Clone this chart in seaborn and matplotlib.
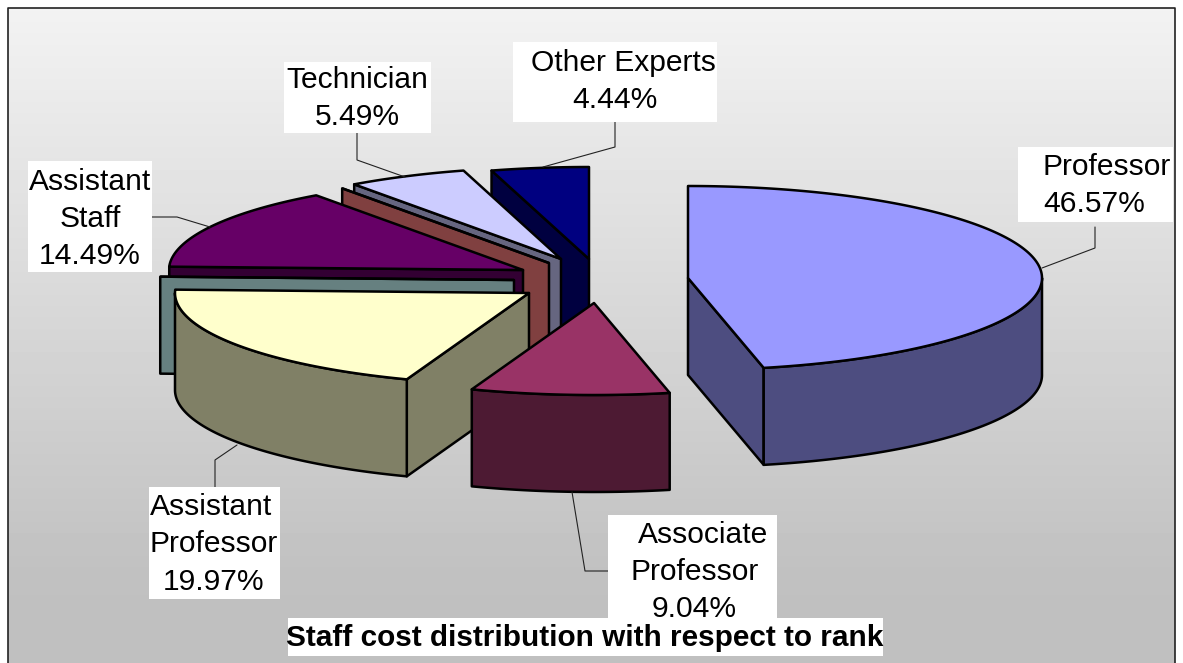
import numpy as np
import matplotlib
matplotlib.use("Agg")
import matplotlib.pyplot as plt
from matplotlib.patches import Polygon, Rectangle
import seaborn as sns

# Slices in clockwise order from 12 o'clock. The two empty names are zero-value
# categories: the original only shows their cut faces (teal and brown).
categories = ["Professor", "Associate Professor", "Assistant Professor", "",
              "Assistant Staff", "", "Technician", "Other Experts"]
percent = [46.57, 9.04, 19.97, 0.0, 14.49, 0.0, 5.49, 4.44]
slice_colors = ["#9999FF", "#993366", "#FFFFCC", "#CCFFFF",
                "#660066", "#FF8080", "#CCCCFF", "#000080"]
title = "Staff cost distribution with respect to rank"

# Layout in image pixels
W, H = 1183, 663
RX, RY, DEPTH = 354, 92, 97
centers = [(688, 278), (594, 303), (529, 293), (514, 280),
           (523, 270), (549, 263), (561, 259), (589, 259)]

# name -> box (x0, y0, x1, y1), text lines as (x center, y center), leader line
label_layout = {
    "Professor": ((1018, 147, 1173, 222), [(1107, 167), (1094, 204)],
                  [(1042, 268), (1095, 248), (1095, 227)]),
    "Associate Professor": ((608, 515, 777, 622), [(703, 535), (695, 572), (694, 609)],
                            [(572, 492), (585, 571), (608, 571)]),
    "Assistant Professor": ((149, 487, 280, 599), [(211, 507), (214, 544), (214, 582)],
                            [(237, 445), (215, 460), (215, 487)]),
    "Assistant Staff": ((28, 161, 152, 272), [(90, 182), (90, 219), (90, 256)],
                        [(210, 227), (177, 217), (152, 217)]),
    "Technician": ((284, 62, 431, 133), [(357, 80), (357, 117)],
                   [(405, 177), (357, 160), (357, 133)]),
    "Other Experts": ((513, 42, 717, 122), [(623, 63), (615, 100)],
                      [(543, 167), (615, 147), (615, 122)]),
}

sns.set_theme(style="white")
plt.rcParams["font.family"] = ["Liberation Sans", "DejaVu Sans"]
palette = sns.color_palette(slice_colors)

fig, ax = plt.subplots(figsize=(W / 100, H / 100), dpi=100)
fig.subplots_adjust(0, 0, 1, 1)
ax.set_xlim(0, W)
ax.set_ylim(H, 0)
ax.axis("off")

# gradient panel with frame (no bottom line, it runs off the image)
gradient = np.interp(np.arange(8, H), [8, 575, H], [0.95, 0.755, 0.75]).reshape(-1, 1)
ax.imshow(gradient, cmap="gray", vmin=0, vmax=1, extent=(8, 1175, H, 8),
          aspect="auto", zorder=0)
ax.plot([8, 8, 1175, 1175], [H, 8, 8, H], color="#222222", lw=1.2, zorder=1)
ax.set_xlim(0, W)
ax.set_ylim(H, 0)

edges = np.concatenate([[0], np.cumsum(percent)]) / np.sum(percent) * 360


def rim(center, angle):
    a = np.radians(angle)
    return center[0] + RX * np.sin(a), center[1] - RY * np.cos(a)


def arc(center, a0, a1):
    angles = np.linspace(a0, a1, max(2, int(abs(a1 - a0) * 2)))
    return [rim(center, a) for a in angles]


def shift(points):
    return [(x, y + DEPTH) for x, y in points]


def add_poly(points, color):
    ax.add_patch(Polygon(points, closed=True, facecolor=color, edgecolor="black",
                         lw=1.8, joinstyle="round", zorder=2))


# back to front, so the reversed order of the slices
for i in reversed(range(len(percent))):
    c = centers[i]
    a0, a1 = edges[i], edges[i + 1]
    top = palette[i]
    wall = tuple(v / 2 for v in top)

    # cut faces that look towards the viewer
    for a, visible in [(a0, np.sin(np.radians(a0)) < -1e-6),
                       (a1, np.sin(np.radians(a1)) > 1e-6)]:
        if visible:
            face = [c, rim(c, a)]
            add_poly(face + shift(face)[::-1], wall)

    # outer wall, front half of the ellipse only
    w0, w1 = max(a0, 90), min(a1, 270)
    if w1 > w0:
        outer = arc(c, w0, w1)
        add_poly(outer + shift(outer)[::-1], wall)

    add_poly([c] + arc(c, a0, a1), top)

for name, value in zip(categories, percent):
    if not name:
        continue
    box, lines, leader = label_layout[name]
    lx, ly = zip(*leader)
    ax.plot(lx, ly, color="#222222", lw=0.8, zorder=3)
    ax.add_patch(Rectangle((box[0], box[1]), box[2] - box[0], box[3] - box[1],
                           facecolor="white", edgecolor="none", zorder=4))
    words = name.split() if name != "Other Experts" else [name]
    for text, (x, y) in zip(words + [f"{value:.2f}%"], lines):
        ax.text(x, y, text, ha="center", va="center", fontsize=21.6,
                color="black", zorder=5)

ax.add_patch(Rectangle((288, 618), 595, 38, facecolor="white", edgecolor="none", zorder=6))
ax.text(585, 638, title, ha="center", va="center", fontsize=21.4, fontweight="bold",
        color="black", zorder=7)

plt.savefig("out.png", dpi=100)
